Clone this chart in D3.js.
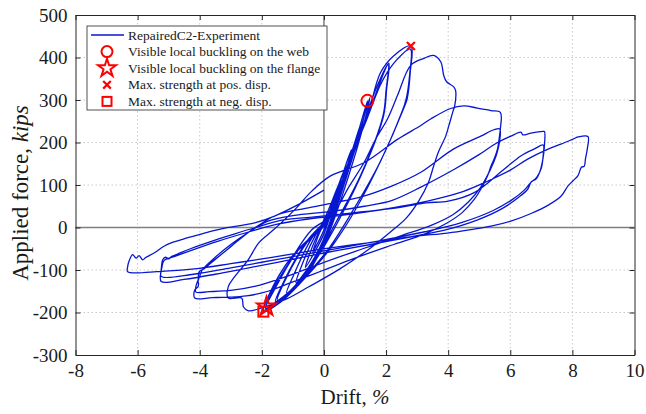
<!DOCTYPE html>
<html>
<head>
<meta charset="utf-8">
<script src="https://d3js.org/d3.v7.min.js"></script>
<style>
  body { margin: 0; background: #fff; }
  svg text { font-family: "Liberation Serif", "Times New Roman", Times, serif; fill: #1a1a1a; }
</style>
</head>
<body>
<div id="chart"></div>
<script>
// tick values
const xTicks = [-8, -6, -4, -2, 0, 2, 4, 6, 8, 10];
const yTicks = [-300, -200, -100, 0, 100, 200, 300, 400, 500];

// test record, [drift %, force kips], cycle by cycle
const loop01 = [[0,0],[0.18,38],[0.33,70],[0.26,48],[0.08,8],[-0.12,-25],[-0.3,-50],[-0.36,-58],[-0.27,-37],[-0.1,-6]];
const loop02 = [[0.1,18],[0.35,74],[0.6,127],[0.5,98],[0.2,28],[0,-15],[-0.3,-58],[-0.6,-94],[-0.5,-70],[-0.2,-16]];
const loop03 = [[0.1,24],[0.5,104],[0.88,183],[0.77,150],[0.35,50],[0,-26],[-0.5,-94],[-0.9,-130],[-0.75,-96],[-0.3,-22]];
const loop04 = [[0.2,34],[0.7,134],[1.18,243],[1.04,205],[0.5,74],[0,-30],[-0.6,-108],[-1.2,-154],[-1.0,-116],[-0.4,-26]];
const loop05 = [[0.2,30],[0.8,150],[1.4,298],[1.27,254],[0.6,90],[0,-36],[-0.8,-130],[-1.5,-172],[-1.3,-132],[-0.5,-30]];
const loop06 = [[0.2,26],[0.9,165],[1.48,306],[1.35,262],[0.7,100],[0,-40],[-0.8,-134],[-1.56,-176],[-1.35,-136],[-0.55,-32]];
const loop07 = [[0.3,40],[1.0,182],[1.65,322],[2.09,387],[2.02,327],[1.92,263],[1.3,140],[0.5,20],[-0.3,-80],[-1.1,-150],[-1.85,-186],[-1.62,-150],[-0.8,-50]];
const loop08 = [[0.1,12],[0.8,142],[1.5,282],[2.07,383],[2.0,322],[1.9,262],[1.2,126],[0.4,14],[-0.4,-90],[-1.2,-158],[-1.88,-190],[-1.66,-152],[-0.9,-60]];
const loop09 = [[0,14],[0.7,130],[1.4,262],[1.82,364],[2.25,404],[2.8,427],[2.78,366],[2.68,303],[2.56,279],[1.85,160],[1.0,40],[0.2,-50],[-0.7,-126],[-1.4,-176],[-1.95,-198],[-1.78,-160],[-1.05,-70]];
const loop10 = [[-0.2,-8],[0.5,105],[1.3,240],[1.88,345],[2.35,395],[2.78,420],[2.76,360],[2.64,300],[2.5,270],[1.78,150],[0.9,36],[0.1,-55],[-0.8,-130],[-1.5,-178],[-1.96,-194],[-1.8,-165],[-1.1,-80],[-0.4,-6]];
const loop11 = [[0.25,28],[0.8,95],[1.3,154],[1.68,210],[2.05,256],[2.37,311],[2.8,382],[3.22,398],[3.53,405],[3.76,390],[3.86,357],[3.95,343],[4.18,331],[4.24,322],[4.21,286],[4.15,272],[4.02,239],[3.92,215],[3.69,178],[3.53,144],[3.37,107],[3.05,62],[2.65,22],[2.15,-10],[1.5,-48],[0.5,-98],[-0.5,-140],[-1.2,-168],[-2.0,-189],[-2.43,-196],[-2.59,-187],[-2.65,-166],[-3.08,-166],[-3.08,-139],[-2.9,-118],[-2.44,-76],[-2.1,-36],[-1.68,-9],[-1.36,12],[-0.9,45],[-0.4,85]];
const loop12 = [[0.2,121],[1.3,153],[2.38,208],[3.12,240],[3.45,256],[4.08,280],[4.5,286],[4.94,281],[5.38,275],[5.68,271],[5.68,232],[5.64,208],[5.59,185],[5.48,161],[5.38,145],[5.27,122],[5.05,90],[4.84,66],[4.45,35],[3.95,10],[3.25,-15],[2.25,-40],[1.0,-72],[0,-100],[-1,-128],[-1.8,-150],[-2.5,-161],[-3.1,-164],[-3.6,-165],[-4.16,-166],[-4.16,-147],[-4.05,-139],[-4.05,-123],[-4.01,-103],[-3.9,-99],[-3.5,-75],[-3,-45],[-2.5,-15],[-2,10],[-1.5,30],[-0.6,45]];
const loop13 = [[0.3,58],[1.2,72],[2.2,98],[3.12,130],[4.18,185],[5.05,215],[5.47,230],[5.66,232],[5.65,200],[5.55,170],[5.35,135],[5.05,95],[4.65,60],[4.15,30],[3.45,5],[2.45,-20],[1.25,-50],[0,-82],[-1.2,-115],[-2.2,-138],[-3,-148],[-3.7,-151],[-4.12,-152],[-4.12,-138],[-4.0,-115],[-3.92,-100],[-3.5,-70],[-3,-40],[-2.4,-10],[-1.8,15]];
const loop14 = [[-1.0,28],[0.26,38],[1.3,50],[2.2,64],[3.12,95],[4.2,137],[4.94,169],[5.59,200],[6.02,215],[6.35,224],[6.4,218],[6.67,222],[7.05,226],[7.1,226],[7.1,193],[7.05,161],[6.94,129],[6.83,114],[6.67,107],[6.56,90],[6.25,70],[5.75,45],[4.95,18],[3.95,-5],[2.95,-20],[1.5,-40],[0,-60],[-1.5,-82],[-2.5,-96],[-3.5,-110],[-4.5,-122],[-5.24,-127],[-5.24,-100],[-5.19,-76],[-5.1,-70],[-5.0,-74],[-4.9,-68],[-4.7,-62],[-4.3,-50],[-3.6,-32],[-3,-18],[-2.2,0],[-1.3,18]];
const loop15 = [[-0.3,25],[1,35],[2.5,48],[3.3,58],[4.0,62],[4.84,82],[5.8,137],[6.35,169],[6.78,185],[7.06,194],[7.06,170],[7.0,140],[6.85,118],[6.65,105],[6.45,88],[6.05,65],[5.45,40],[4.45,12],[3.25,-10],[1.5,-35],[0,-55],[-1.5,-75],[-3,-95],[-4.2,-110],[-5.24,-115],[-5.22,-95],[-5.15,-78],[-4.8,-68],[-4.2,-52],[-3.4,-32],[-2.4,-10],[-1.5,8],[-0.5,20]];
const loop16 = [[0.5,28],[1.5,38],[2.5,50],[3.5,65],[4.5,85],[5.3,110],[6.0,135],[6.56,161],[7.2,184],[7.63,196],[8.02,208],[8.18,213],[8.5,214],[8.48,185],[8.42,161],[8.38,144],[8.29,142],[8.18,122],[8.02,110],[7.86,98],[7.64,74],[7.21,52],[6.67,33],[6.02,15],[5.38,3],[4.73,-5],[3.98,-13],[2.9,-21],[1.82,-32],[0.2,-48],[-1,-62],[-2,-74],[-3,-85],[-4,-96],[-5.24,-103],[-6.32,-104],[-6.32,-92],[-6.28,-80],[-6.16,-64],[-6.05,-72],[-5.95,-66],[-5.84,-76],[-5.73,-70],[-5.47,-60],[-5.15,-44],[-4.92,-36],[-4.38,-24],[-3.85,-13],[-3.3,-3],[-2.23,11],[-1.59,27],[-0.8,55],[0,88]];

// damage events
const webBuckling = [[1.4, 298]];
const flangeBuckling = [[-1.85, -186]];
const maxPos = [[2.8, 427]];
const maxNeg = [[-1.95, -198]];

const record = [].concat(loop01, loop02, loop03, loop04, loop05, loop06, loop07, loop08,
    loop09, loop10, loop11, loop12, loop13, loop14, loop15, loop16);

const serif = '"Liberation Serif", "Times New Roman", Times, serif';
const W = 646, H = 414;
const margin = {top: 15, right: 11.5, bottom: 59, left: 75.5};
const width = W - margin.left - margin.right;
const height = H - margin.top - margin.bottom;

const x = d3.scaleLinear().domain([-8, 10]).range([0, width]);
const y = d3.scaleLinear().domain([-300, 500]).range([height, 0]);

const svg = d3.select("#chart").append("svg")
    .attr("width", W)
    .attr("height", H)
  .append("g")
    .attr("transform", `translate(${margin.left},${margin.top})`);

// dotted grid
svg.append("g").selectAll("line")
    .data(xTicks.filter(d => d !== 0 && d !== -8 && d !== 10))
  .enter().append("line")
    .attr("x1", d => x(d)).attr("x2", d => x(d))
    .attr("y1", 0).attr("y2", height)
    .style("stroke", "#c8c8c8").style("stroke-dasharray", "1.5,2.5");
svg.append("g").selectAll("line")
    .data(yTicks.filter(d => d !== 0 && d !== -300 && d !== 500))
  .enter().append("line")
    .attr("x1", 0).attr("x2", width)
    .attr("y1", d => y(d)).attr("y2", d => y(d))
    .style("stroke", "#c8c8c8").style("stroke-dasharray", "1.5,2.5");

// zero lines
svg.append("line")
    .attr("x1", x(0)).attr("x2", x(0)).attr("y1", 0).attr("y2", height)
    .style("stroke", "#7f7f7f").style("stroke-width", 1.5);
svg.append("line")
    .attr("x1", 0).attr("x2", width).attr("y1", y(0)).attr("y2", y(0))
    .style("stroke", "#7f7f7f").style("stroke-width", 1.5);

const valueline = d3.line()
    .x(d => x(d[0]))
    .y(d => y(d[1]))
    .curve(d3.curveCatmullRom.alpha(0.5));

svg.append("path")
    .attr("class", "line")
    .attr("d", valueline(record))
    .style("fill", "none")
    .style("stroke", "#0716d0")
    .style("stroke-width", 1.3)
    .style("stroke-linejoin", "round");

// event markers
const red = "#ff0000";
function drawCircle(g, cx, cy, r) {
    g.append("circle").attr("cx", cx).attr("cy", cy).attr("r", r)
        .style("fill", "none").style("stroke", red).style("stroke-width", 2);
}
function drawStar(g, cx, cy, size) {
    g.append("path").attr("d", d3.symbol(d3.symbolStar, size)())
        .attr("transform", `translate(${cx},${cy})`)
        .style("fill", "none").style("stroke", red).style("stroke-width", 2);
}
function drawX(g, cx, cy, s) {
    g.append("path").attr("d", `M${cx - s},${cy - s}L${cx + s},${cy + s}M${cx - s},${cy + s}L${cx + s},${cy - s}`)
        .style("stroke", red).style("stroke-width", 2.2);
}
function drawSquare(g, cx, cy, s) {
    g.append("rect").attr("x", cx - s).attr("y", cy - s).attr("width", 2 * s).attr("height", 2 * s)
        .style("fill", "none").style("stroke", red).style("stroke-width", 2);
}

webBuckling.forEach(d => drawCircle(svg, x(d[0]), y(d[1]), 6));
maxNeg.forEach(d => drawSquare(svg, x(d[0]), y(d[1]), 5));
flangeBuckling.forEach(d => drawStar(svg, x(d[0]), y(d[1]), 110));
maxPos.forEach(d => drawX(svg, x(d[0]), y(d[1]), 4));

// axes, ticks on all four sides pointing inward; plain hyphen for negatives
const fmt = d => String(d);
svg.append("g")
    .attr("class", "x axis")
    .attr("transform", `translate(0,${height})`)
    .call(d3.axisBottom(x).tickValues(xTicks).tickFormat(fmt).tickSizeInner(-5).tickSizeOuter(0).tickPadding(9));
svg.append("g")
    .attr("class", "y axis")
    .call(d3.axisLeft(y).tickValues(yTicks).tickFormat(fmt).tickSizeInner(-5).tickSizeOuter(0).tickPadding(8));
svg.append("g")
    .call(d3.axisTop(x).tickValues(xTicks).tickSizeInner(-5).tickSizeOuter(0).tickFormat(""));
svg.append("g")
    .attr("transform", `translate(${width},0)`)
    .call(d3.axisRight(y).tickValues(yTicks).tickSizeInner(-5).tickSizeOuter(0).tickFormat(""));

svg.selectAll(".domain").style("stroke", "#262626");
svg.selectAll(".tick line").style("stroke", "#262626");
svg.selectAll(".axis").attr("font-family", serif).attr("font-size", 19);
svg.selectAll(".tick text")
    .style("font-family", serif)
    .style("font-size", "19px")
    .style("fill", "#1a1a1a");

// axis labels
svg.append("text")
    .attr("x", width / 2)
    .attr("y", height + 49)
    .attr("text-anchor", "middle")
    .style("font-family", serif)
    .style("font-size", "21px")
    .html('Drift, <tspan font-style="italic">%</tspan>');
svg.append("text")
    .attr("transform", `translate(-48,${height / 2 + 8}) rotate(-90)`)
    .attr("text-anchor", "middle")
    .style("font-family", serif)
    .style("font-size", "23px")
    .html('Applied force, <tspan font-style="italic">kips</tspan>');

// legend
const legend = svg.append("g").attr("transform", "translate(11.5,11)");
legend.append("rect")
    .attr("width", 240).attr("height", 84)
    .style("fill", "#fff").style("stroke", "#262626").style("stroke-width", 0.8);
const items = [
    "RepairedC2-Experiment",
    "Visible local buckling on the web",
    "Visible local buckling on the flange",
    "Max. strength at pos. disp.",
    "Max. strength at neg. disp."
];
items.forEach((t, i) => {
    const yy = 9 + i * 16.6;
    legend.append("text")
        .attr("x", 41).attr("y", yy + 4.5)
        .style("font-family", serif)
        .style("font-size", "13.5px")
        .text(t);
});
legend.append("line").attr("x1", 4).attr("x2", 37).attr("y1", 9).attr("y2", 9)
    .style("stroke", "#0716d0").style("stroke-width", 1.3);
drawCircle(legend, 20, 9 + 16.6, 5.5);
drawStar(legend, 20, 9 + 2 * 16.6, 100);
drawX(legend, 20, 9 + 3 * 16.6, 3.8);
drawSquare(legend, 20, 9 + 4 * 16.6, 4.5);
</script>
</body>
</html>
